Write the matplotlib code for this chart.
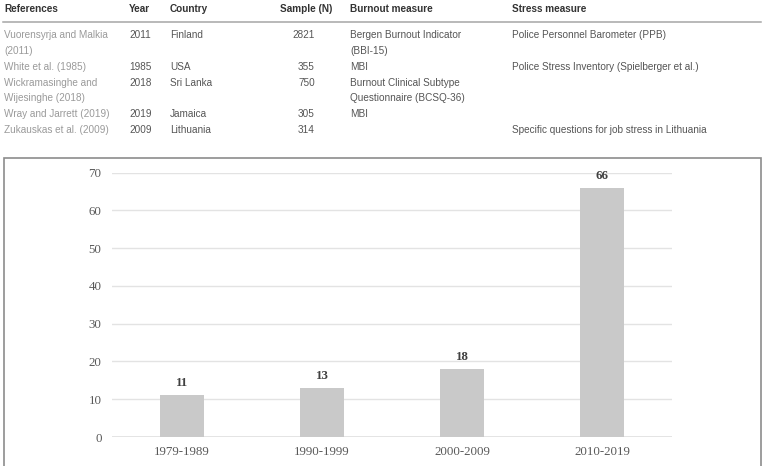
import matplotlib
matplotlib.use("Agg")
import matplotlib.pyplot as plt
from matplotlib.patches import Rectangle
from matplotlib.lines import Line2D

# table data
headers = ["References", "Year", "Country", "Sample (N)", "Burnout measure", "Stress measure"]
references = ["Vuorensyrja and Malkia\n(2011)", "White et al. (1985)",
              "Wickramasinghe and\nWijesinghe (2018)", "Wray and Jarrett (2019)",
              "Zukauskas et al. (2009)"]
years = ["2011", "1985", "2018", "2019", "2009"]
countries = ["Finland", "USA", "Sri Lanka", "Jamaica", "Lithuania"]
samples = ["2821", "355", "750", "305", "314"]
burnout = ["Bergen Burnout Indicator\n(BBI-15)", "MBI",
           "Burnout Clinical Subtype\nQuestionnaire (BCSQ-36)", "MBI", ""]
stress = ["Police Personnel Barometer (PPB)", "Police Stress Inventory (Spielberger et al.)",
          "", "", "Specific questions for job stress in Lithuania"]

# chart data
periods = ["1979-1989", "1990-1999", "2000-2009", "2010-2019"]
counts = [11, 13, 18, 66]

W, H = 770, 466
fig = plt.figure(figsize=(W / 100, H / 100), dpi=100)


def fx(x):
    return x / W


def fy(y):
    return 1 - y / H


sans = "Liberation Sans"
fs_tab = 7.2

# table columns: (x, ha)
col_x = [4, 129, 170, 332, 350, 512]
col_ha = ["left", "left", "left", "right", "left", "left"]
for x, ha, h in zip(col_x, col_ha, headers):
    fig.text(fx(x), fy(9.5), h, ha=ha, va="center", fontsize=fs_tab,
             fontweight="bold", color="#333333", family=sans)

fig.add_artist(Line2D([fx(3), fx(761)], [fy(22), fy(22)], color="#a6a6a6", lw=1.1))

line_h = 15.5
y = 35
for i in range(len(references)):
    cells = [references[i], years[i], countries[i], samples[i], burnout[i], stress[i]]
    nl = max(c.count("\n") + 1 for c in cells)
    for j, (x, ha, c) in enumerate(zip(col_x, col_ha, cells)):
        if j == 3:
            x = 315
        col = "#9a9a9a" if j == 0 else "#555555"
        for k, part in enumerate(c.split("\n")):
            fig.text(fx(x), fy(y + k * line_h), part, ha=ha, va="center",
                     fontsize=fs_tab, color=col, family=sans)
    y += nl * line_h + 0.5

# frame around chart
fig.add_artist(Rectangle((fx(3.5), fy(480)), fx(761) - fx(3.5), fy(157.5) - fy(480),
                         fill=False, edgecolor="#8c8c8c", lw=1.2))

ax = fig.add_axes([fx(112), 1 - 437 / H, fx(672) - fx(112), (437 - 172.7) / H])
xs = range(len(periods))
ax.bar(xs, counts, width=0.31, color="#c9c9c9", zorder=2)
ax.set_xlim(-0.5, len(periods) - 0.5)
ax.set_ylim(0, 70)
ax.set_yticks(range(0, 71, 10))
ax.set_xticks(list(xs))
ax.set_xticklabels(periods)
ax.grid(axis="y", color="#e3e3e3", lw=1.0, zorder=0)
ax.axhline(0, color="#e0e0e0", lw=1.2, zorder=1)
for s in ax.spines.values():
    s.set_visible(False)
ax.tick_params(length=0, labelsize=9.3, labelcolor="#595959")
ax.tick_params(axis="y", pad=7.5)
ax.tick_params(axis="x", pad=6.5)
for lab in ax.get_xticklabels() + ax.get_yticklabels():
    lab.set_family("Liberation Serif")
for x, v in zip(xs, counts):
    ax.annotate(str(v), (x, v), xytext=(0, 4.5), textcoords="offset points",
                ha="center", va="bottom", fontsize=9.3, fontweight="bold",
                color="#404040", family="Liberation Serif")

fig.savefig("out.png", dpi=100)
